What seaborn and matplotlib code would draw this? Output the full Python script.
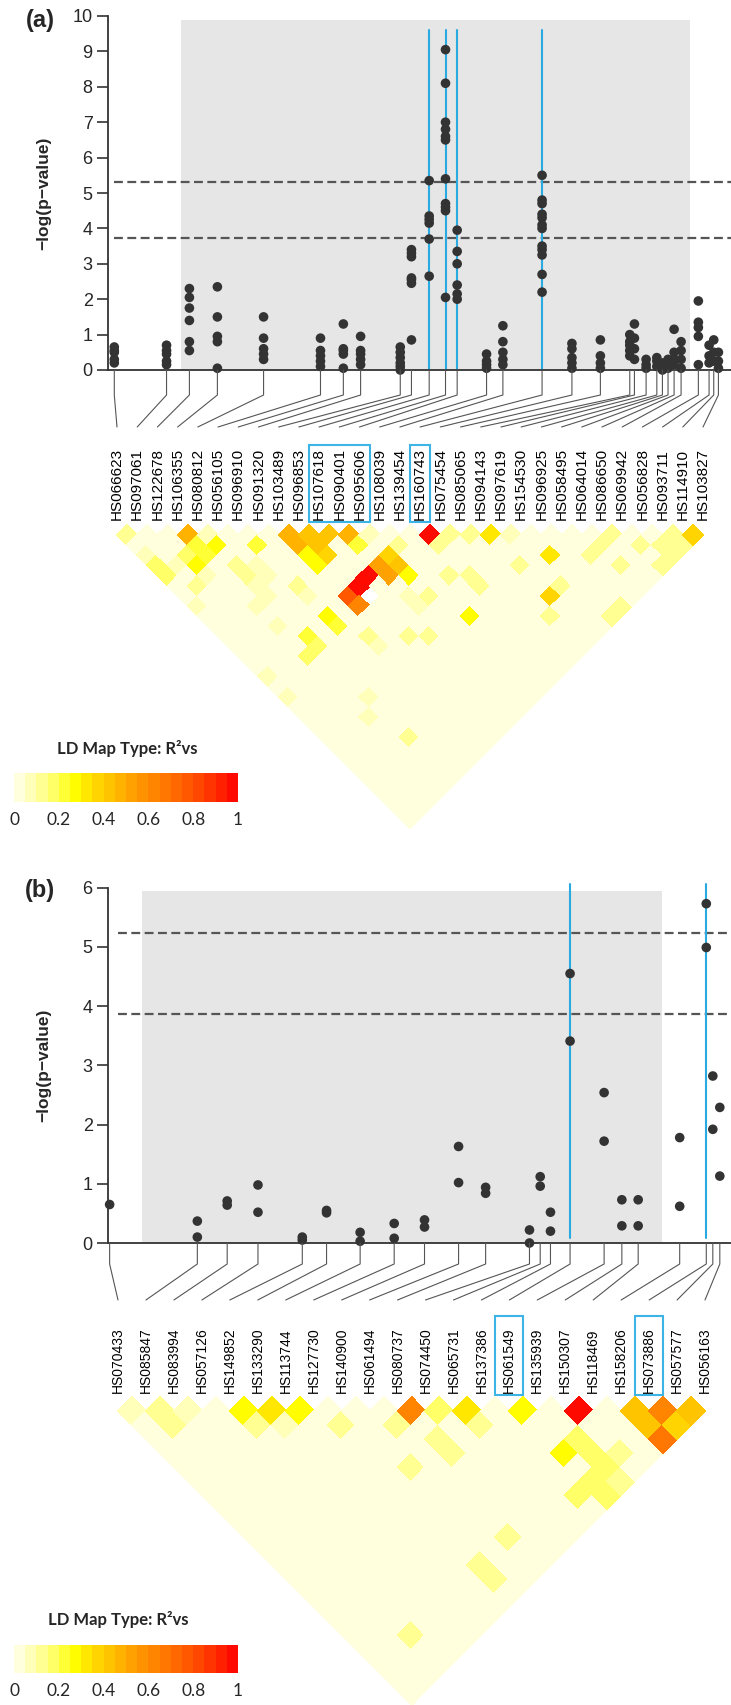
import numpy as np
import pandas as pd
import matplotlib
matplotlib.use("Agg")
import matplotlib.pyplot as plt
import seaborn as sns
from matplotlib import font_manager
from matplotlib.colors import LinearSegmentedColormap, ListedColormap, Normalize
from matplotlib.patches import Rectangle
import matplotlib.colorbar as mcolorbar

# ---------------- panel (a) data ----------------
snps_a = ["HS066623", "HS097061", "HS122678", "HS106355", "HS080812", "HS056105",
          "HS096910", "HS091320", "HS103489", "HS096853", "HS107618", "HS090401",
          "HS095606", "HS108039", "HS139454", "HS160743", "HS075454", "HS085065",
          "HS094143", "HS097619", "HS154530", "HS096925", "HS058495", "HS064014",
          "HS086650", "HS069942", "HS056828", "HS093711", "HS114910", "HS103827"]
pos_a = [245, 357, 406, 466, 565, 687, 736, 773, 858, 882, 920, 955, 980, 1043, 1078,
         1162, 1226, 1287, 1350, 1360, 1385, 1408, 1420, 1432, 1445, 1460, 1497, 1520,
         1530, 1540]
logp_a = [[0.2, 0.3, 0.5, 0.55, 0.65], [0.15, 0.25, 0.45, 0.55, 0.7],
          [0.55, 0.8, 1.4, 1.75, 2.05, 2.3], [0.05, 0.8, 0.95, 1.5, 2.35],
          [0.3, 0.45, 0.6, 0.9, 1.5], [0.1, 0.25, 0.4, 0.55, 0.9],
          [0.05, 0.45, 0.55, 0.6, 1.3], [0.15, 0.3, 0.45, 0.55, 0.95],
          [0.0, 0.1, 0.2, 0.35, 0.5, 0.65], [0.85, 2.45, 2.55, 2.6, 3.2, 3.3, 3.4],
          [2.65, 3.7, 4.15, 4.25, 4.35, 5.35],
          [2.05, 4.5, 4.6, 4.7, 5.4, 6.5, 6.6, 6.8, 7.0, 8.1, 9.05],
          [2.0, 2.15, 2.4, 3.0, 3.35, 3.95], [0.05, 0.15, 0.25, 0.45],
          [0.15, 0.3, 0.5, 0.8, 1.25],
          [2.2, 2.7, 3.25, 3.4, 3.5, 4.0, 4.1, 4.3, 4.4, 4.7, 4.8, 5.5],
          [0.05, 0.2, 0.35, 0.6, 0.75], [0.05, 0.2, 0.4, 0.85],
          [0.4, 0.55, 0.7, 0.8, 1.0], [0.3, 0.6, 0.9, 1.3], [0.05, 0.15, 0.3],
          [0.1, 0.25, 0.35], [0.0, 0.1, 0.2], [0.05, 0.2, 0.3], [0.15, 0.3, 0.5, 1.15],
          [0.05, 0.3, 0.55, 0.8], [0.15, 0.95, 1.2, 1.35, 1.95], [0.2, 0.4, 0.7],
          [0.25, 0.5, 0.85], [0.05, 0.25, 0.5]]
hits_a = [10, 11, 12, 15]
boxes_a = [(10, 12), (15, 15)]
thresholds_a = [5.32, 3.72]
# LD r2 for marker pairs (i, j); None = missing
ld_a = [(0, 1, .10), (3, 4, .47), (4, 5, .08), (3, 5, .22), (2, 5, .15), (0, 3, .08),
        (0, 4, .15), (0, 5, .18), (1, 5, .08), (1, 7, .10), (0, 8, .08), (2, 7, .08),
        (4, 6, .25), (3, 6, .22), (2, 6, .27), (6, 8, .22), (4, 8, .10), (4, 9, .10),
        (4, 10, .08), (5, 9, .08), (5, 10, .08), (3, 11, .08), (4, 11, .08),
        (8, 9, .45), (8, 10, .45), (9, 10, .40), (9, 11, .42), (10, 11, .42),
        (9, 12, .38), (8, 11, .25), (8, 12, .25), (11, 12, .47), (11, 13, .22),
        (12, 13, .08), (10, 15, .95), (9, 15, .97), (8, 15, .78), (8, 16, .6),
        (11, 15, .52), (11, 16, .52), (12, 16, .42), (12, 15, .38), (13, 15, .12),
        (12, 17, .25), (9, 16, None), (6, 12, .12), (6, 13, .08), (6, 15, .25),
        (6, 16, .2), (7, 18, .12), (3, 13, .08), (4, 15, .22), (3, 16, .15),
        (4, 16, .18), (7, 19, .08), (9, 20, .1), (0, 15, .08), (11, 19, .08),
        (11, 18, .08), (15, 16, 1.0), (16, 17, .12), (15, 17, .10), (17, 18, .12),
        (18, 19, .3), (19, 20, .08), (20, 23, .3), (18, 22, .12), (14, 19, .12),
        (15, 20, .12), (15, 21, .12), (12, 19, .12), (13, 22, .25), (18, 25, .36),
        (17, 26, .12), (19, 25, .1), (22, 25, .1), (23, 27, .1), (24, 25, .12),
        (23, 25, .1), (25, 27, .1), (26, 28, .12), (26, 29, .12), (25, 29, .1),
        (27, 28, .12), (27, 29, .12), (28, 29, .38), (21, 29, .1), (20, 29, .1),
        (10, 21, .12), (0, 17, .08), (4, 21, .08), (3, 22, .08), (4, 25, .12)]

# ---------------- panel (b) data ----------------
snps_b = ["HS070433", "HS085847", "HS083994", "HS057126", "HS149852", "HS133290",
          "HS113744", "HS127730", "HS140900", "HS061494", "HS080737", "HS074450",
          "HS065731", "HS137386", "HS061549", "HS135939", "HS150307", "HS118469",
          "HS158206", "HS073886", "HS057577", "HS056163"]
pos_b = [235, 423, 487, 553, 648, 700, 772, 845, 910, 983, 1041, 1135, 1158, 1180,
         1222, 1295, 1333, 1368, 1457, 1514, 1528, 1543]
logp_b = [[0.65], [0.1, 0.37], [0.64, 0.71], [0.52, 0.98], [0.05, 0.1], [0.51, 0.55],
          [0.03, 0.18], [0.08, 0.33], [0.27, 0.39], [1.02, 1.63], [0.84, 0.94],
          [0.0, 0.22], [0.96, 1.12], [0.2, 0.52], [3.41, 4.55], [1.72, 2.54],
          [0.29, 0.73], [0.29, 0.73], [0.62, 1.78], [4.99, 5.73], [1.92, 2.82],
          [1.13, 2.29]]
hits_b = [14, 19]
boxes_b = [(14, 14), (19, 19)]
thresholds_b = [5.23, 3.86]
ld_b = [(0, 1, .05), (1, 2, .12), (1, 3, .12), (2, 3, .05), (4, 5, .27), (5, 6, .32),
        (6, 7, .28), (4, 6, .12), (5, 7, .06), (7, 9, .12), (10, 11, .6), (9, 11, .12),
        (8, 13, .12), (11, 12, .15), (12, 13, .32), (12, 14, .1), (10, 13, .12),
        (10, 14, .12), (14, 15, .28), (16, 17, 1.0), (14, 18, .27), (15, 18, .15),
        (15, 19, .17), (15, 20, .15), (14, 20, .17), (14, 21, .15), (15, 21, .12),
        (13, 20, .15), (16, 20, .12), (18, 19, .42), (19, 20, .62), (20, 21, .42),
        (18, 20, .42), (19, 21, .38), (18, 21, .68), (9, 19, .12), (7, 19, .14),
        (7, 20, .12), (2, 19, .12)]
ld_base = 0.02

# ---------------- style ----------------
sns.set_theme(style="white")
names = {f.name for f in font_manager.fontManager.ttflist}
narrow = "Liberation Sans Narrow" if "Liberation Sans Narrow" in names else "Liberation Sans"
plt.rcParams["font.family"] = ["Liberation Sans", "DejaVu Sans"]

W, H = 731, 1705
PX = 0.4665                       # pixels per position unit
XLIM = (108 / PX, 731 / PX)
DARK = "#333333"
BLUE = "#29abe2"

cmap_base = LinearSegmentedColormap.from_list(
    "ld", [(0.0, "#ffffee"), (0.1, "#ffffa8"), (0.2, "#ffff50"), (0.27, "#ffff00"),
           (0.35, "#ffdd00"), (0.45, "#ffbb00"), (0.55, "#ff9900"), (0.7, "#ff7000"),
           (0.85, "#ff4000"), (1.0, "#ff0000")])
cmap = ListedColormap(cmap_base(np.linspace(0.025, 0.975, 20)))
norm = Normalize(0, 1)

fig = plt.figure(figsize=(W / 100, H / 100), dpi=100)


def add_ax(top, bottom):
    return fig.add_axes([108 / W, 1 - bottom / H, (731 - 108) / W, (bottom - top) / H])


def draw_panel(letter, snps, pos, logp, hits, boxes, thr, ld, ymax, gray, blue_span,
               lay, label_fs):
    n = len(snps)
    # ---- association plot ----
    ax = add_ax(lay["y_top"], lay["y_zero"])
    df = pd.DataFrame({"pos": np.repeat(pos, [len(v) for v in logp]),
                       "logp": np.concatenate(logp)})
    ax.add_patch(Rectangle((gray[0], 0), gray[1] - gray[0], gray[2],
                           color="#e6e6e6", lw=0, zorder=0))
    x0 = (lay["dash_start"] / PX - XLIM[0]) / (XLIM[1] - XLIM[0])
    for t in thr:
        ax.axhline(t, xmin=x0, xmax=1, color="#555555", lw=1.6, ls=(0, (4, 2)),
                   zorder=1, clip_on=False)
    for h in hits:
        ax.plot([pos[h], pos[h]], blue_span, color=BLUE, lw=1.5, zorder=2, clip_on=False)
    sns.scatterplot(data=df, x="pos", y="logp", ax=ax, s=48, color=DARK,
                    edgecolor="none", zorder=3, legend=False, clip_on=False)
    ax.set_xlim(XLIM)
    ax.set_ylim(0, ymax)
    for s in ("top", "right"):
        ax.spines[s].set_visible(False)
    for s in ("left", "bottom"):
        ax.spines[s].set_color(DARK)
        ax.spines[s].set_linewidth(1.3)
    ax.set_xticks([])
    ax.set_yticks(range(ymax + 1))
    ax.tick_params(axis="y", direction="out", length=8, width=1.2, color=DARK,
                   labelsize=13, pad=3, left=True)
    for tl in ax.get_yticklabels():
        tl.set_family(narrow)
    ax.set_xlabel("")
    ax.set_ylabel("\u2212log(p\u2212value)", fontsize=12.5, fontweight="bold",
                  family=narrow)
    ax.yaxis.set_label_coords((51 - 108) / 623, 0.5)
    fig.text(lay["letter"][0] / W, 1 - lay["letter"][1] / H, letter, ha="center",
             va="center", fontsize=17, fontweight="bold", family=narrow)

    # ---- connectors, marker names, LD triangle ----
    axl = add_ax(lay["y_zero"], lay["ld_bottom"])
    axl.set_xlim(XLIM)
    axl.set_ylim(lay["ld_bottom"], lay["y_zero"])
    axl.axis("off")
    lab = np.linspace(lay["lab"][0] / PX, lay["lab"][1] / PX, n)
    dx = lab[1] - lab[0]
    y0, y1, y2 = lay["y_zero"], lay["conn"][0], lay["conn"][1]
    for k in range(n):
        axl.plot([pos[k], pos[k], lab[k]], [y0, y1, y2], color="#555555", lw=0.8,
                 clip_on=False)
        axl.text(lab[k], lay["label_bottom"], snps[k], rotation=90, ha="center",
                 va="bottom", fontsize=label_fs, color="black")
    for a, b in boxes:
        axl.add_patch(Rectangle((lab[a] - 0.5 * dx, lay["box"][0]),
                                (b - a + 1) * dx, lay["box"][1] - lay["box"][0],
                                fill=False, ec="#3cb4e6", lw=1.5, clip_on=False))
    C = np.full((n, n), np.nan)
    jj, ii = np.indices((n, n))
    C[jj > ii] = ld_base
    for i, j, r2 in ld:
        C[j, i] = np.nan if r2 is None else r2
    edges = np.arange(n + 1) - 0.5
    A, B = np.meshgrid(edges, edges)
    X = lab[0] + (A + B) / 2 * dx
    Y = lay["ld_row0"] + (B - A - 1) / 2 * dx * PX
    axl.pcolormesh(X, Y, np.ma.masked_invalid(C), cmap=cmap, norm=norm,
                   shading="flat", edgecolors="face", linewidth=0.3, clip_on=False)

    # ---- LD colour key ----
    cb0, cb1 = lay["cbar"]
    cax = fig.add_axes([14 / W, 1 - cb1 / H, 224 / W, (cb1 - cb0) / H])
    cb = mcolorbar.ColorbarBase(cax, cmap=cmap, norm=norm, orientation="horizontal",
                                ticks=[0, .2, .4, .6, .8, 1])
    cb.outline.set_visible(False)
    cb.set_ticklabels(["0", "0.2", "0.4", "0.6", "0.8", "1"])
    cax.tick_params(length=0, labelsize=12.5, pad=7)
    for tl in cax.get_xticklabels():
        tl.set_family(["Lato", "DejaVu Sans"])
    fig.text(lay["title"][0] / W, 1 - lay["title"][1] / H, "LD Map Type: R\u00b2vs",
             ha="center", va="center", fontsize=12, fontweight="bold",
             family=["Lato", "DejaVu Sans"])


lay_a = dict(y_top=16, y_zero=370, conn=(395, 427), label_bottom=520, box=(445, 522),
             ld_row0=535, ld_bottom=845, lab=(117, 703), letter=(40, 21),
             cbar=(773, 802), title=(127, 749), dash_start=114)
lay_b = dict(y_top=887.7, y_zero=1243, conn=(1264, 1300), label_bottom=1393,
             box=(1316, 1395), ld_row0=1411, ld_bottom=1705, lab=(118, 705),
             letter=(40, 890), cbar=(1645, 1673), title=(118, 1620), dash_start=118)

draw_panel("(a)", snps_a, pos_a, logp_a, hits_a, boxes_a, thresholds_a, ld_a, 10,
           (387, 1480, 9.9), (0, 9.6), lay_a, 11)
draw_panel("(b)", snps_b, pos_b, logp_b, hits_b, boxes_b, thresholds_b, ld_b, 6,
           (305, 1420, 5.94), (0.08, 6.07), lay_b, 10)

fig.savefig("out.png", dpi=100)
